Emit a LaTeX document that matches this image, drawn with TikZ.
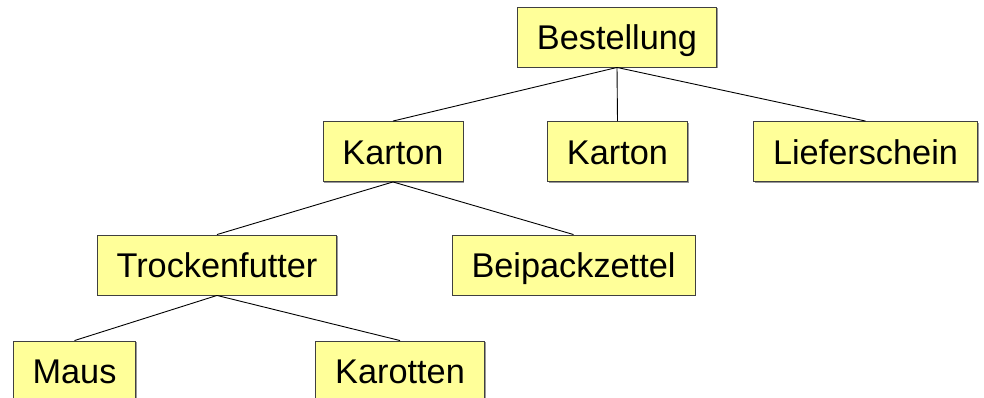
\documentclass[tikz,border=0pt]{standalone}
\usepackage{fontspec}
\setmainfont{Liberation Sans}
\usepackage{tikz}
\usetikzlibrary{shadows}
\usepackage{xcolor}
\definecolor{boxfill}{HTML}{FFFF99}
\definecolor{boxline}{HTML}{404040}
\tikzstyle{part} = [draw=boxline, fill=boxfill, rectangle, line width=0.9pt, minimum height=60pt, inner xsep=19.5pt, text height=25.5pt, text depth=-1pt, font=\fontsize{34.3}{40}\selectfont, drop shadow={shadow xshift=1.3pt, shadow yshift=-1.3pt, fill=black!40, opacity=1}]
\tikzstyle{link} = [draw, line width=0.9pt]

\begin{document}
\begin{tikzpicture}[x=1pt, y=-1pt]
    \useasboundingbox (0,0) rectangle (984,398);
    \clip (0,0) rectangle (984,398);

    % We start by placing the boxes, row by row
    \node [part] (order) at (617,37) {Bestellung};
    \node [part] (boxa) at (393,151.5) {Karton};
    \node [part] (boxb) at (617.5,151.5) {Karton};
    \node [part] (slip) at (865.5,151.5) {Lieferschein};
    \node [part] (food) at (217,265) {Trockenfutter};
    \node [part] (leaflet) at (573.5,265) {Beipackzettel};
    \node [part] (mouse) at (74.5,371) {Maus};
    \node [part] (carrots) at (400,371) {Karotten};

    % Once the boxes are placed, connecting them is easy.
    \draw [link] (order.south) -- (boxa.north);
    \draw [link] (order.south) -- (boxb.north);
    \draw [link] (order.south) -- (slip.north);
    \draw [link] (boxa.south) -- (food.north);
    \draw [link] (boxa.south) -- (leaflet.north);
    \draw [link] (food.south) -- (mouse.north);
    \draw [link] (food.south) -- (carrots.north);
\end{tikzpicture}
\end{document}
